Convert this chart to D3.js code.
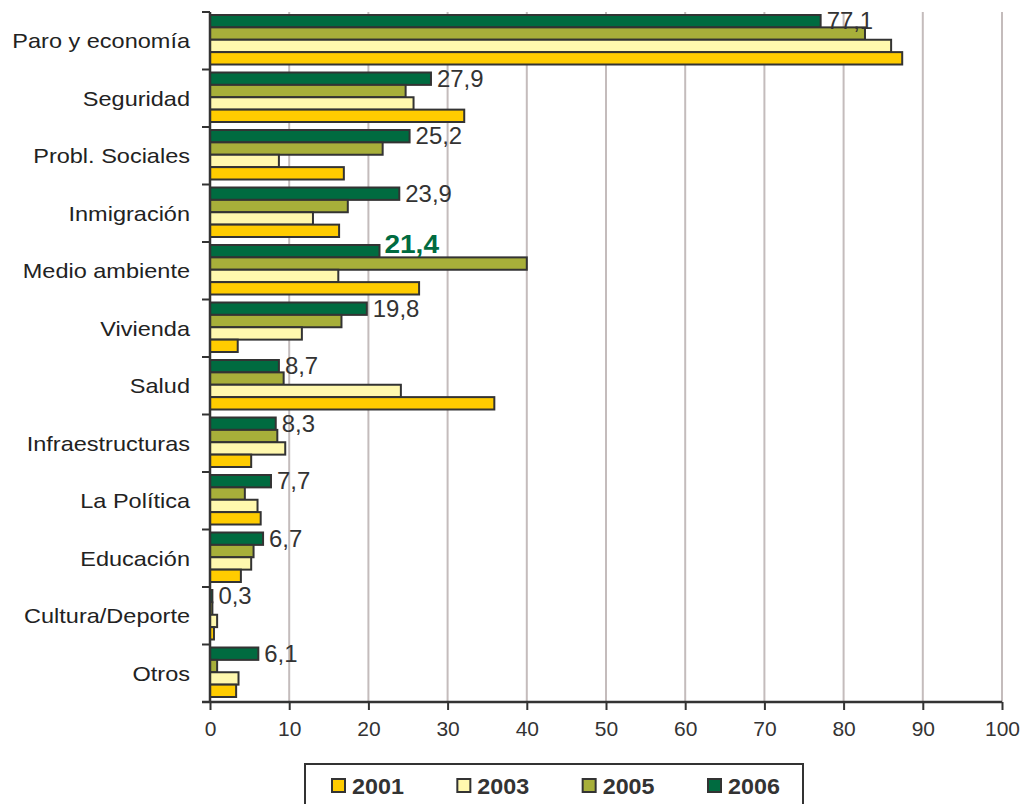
<!DOCTYPE html>
<html><head><meta charset="utf-8">
<script src="https://cdn.jsdelivr.net/npm/d3@7"></script>
<style>body{margin:0;background:#fff}svg{display:block}</style>
</head><body><svg id="c" width="1023" height="804"></svg>
<script>
const categories = ["Paro y economía","Seguridad","Probl. Sociales","Inmigración","Medio ambiente","Vivienda","Salud","Infraestructuras","La Política","Educación","Cultura/Deporte","Otros"];
const years = ["2006","2005","2003","2001"];
const legendYears = ["2001","2003","2005","2006"];
const v2006 = [77.1,27.9,25.2,23.9,21.4,19.8,8.7,8.3,7.7,6.7,0.3,6.1];
const v2005 = [82.7,24.7,21.8,17.4,40.0,16.6,9.3,8.5,4.4,5.5,0.3,0.9];
const v2003 = [86.0,25.7,8.7,13.0,16.2,11.6,24.1,9.5,6.0,5.2,0.9,3.6];
const v2001 = [87.4,32.1,16.9,16.3,26.4,3.5,35.9,5.2,6.4,3.9,0.5,3.3];
const labels2006 = ["77,1","27,9","25,2","23,9","21,4","19,8","8,7","8,3","7,7","6,7","0,3","6,1"];
const xTicks = [0,10,20,30,40,50,60,70,80,90,100];

const seriesByYear = {"2006":v2006,"2005":v2005,"2003":v2003,"2001":v2001};
const colors = {"2001":"#FFCC00","2003":"#FFF8AE","2005":"#A7AF3A","2006":"#006B40"};
const stroke = "#333333";

const svg = d3.select("#c");
const font = "'Liberation Sans', Arial, sans-serif";
const mLeft = 210, mRight = 1002, mTop = 12, mBottom = 702;

const x = d3.scaleLinear().domain([0,100]).range([mLeft,mRight]);
const y = d3.scaleBand().domain(categories).range([mTop,mBottom]).paddingInner(0);
const yInner = d3.scaleBand().domain(years).range([3, y.bandwidth()-5]).paddingInner(0);

// gridlines
svg.append("g").selectAll("line").data(xTicks.slice(1)).join("line")
  .attr("x1",d=>x(d)).attr("x2",d=>x(d)).attr("y1",mTop).attr("y2",mBottom)
  .attr("stroke","#C4BCBC").attr("stroke-width",2);

// bars
const g = svg.append("g");
categories.forEach((c,i)=>{
  years.forEach(yr=>{
    const v = seriesByYear[yr][i];
    g.append("rect")
      .attr("x",x(0)).attr("y",y(c)+yInner(yr))
      .attr("width",Math.max(x(v)-x(0),0.5)).attr("height",yInner.bandwidth())
      .attr("fill",colors[yr]).attr("stroke",stroke).attr("stroke-width",2);
  });
});

// value labels
categories.forEach((c,i)=>{
  const bold = c==="Medio ambiente";
  const tx = x(v2006[i]) + (bold?5:6);
  const ty = y(c)+yInner("2006")+yInner.bandwidth()/2 - (bold?7:0);
  svg.append("text")
    .attr("transform",`translate(${tx},${ty}) scale(${bold?1.12:1.04},1)`)
    .attr("dy","0.36em")
    .attr("font-family",font)
    .attr("font-size",bold?25:23)
    .attr("font-weight",bold?"bold":"normal")
    .attr("fill",bold?"#006B40":"#333333")
    .text(labels2006[i]);
});

// x axis
const xAxis = d3.axisBottom(x).tickValues(xTicks).tickSize(8).tickPadding(11).tickFormat(d3.format("d"));
const gx = svg.append("g").attr("transform",`translate(0,${mBottom})`).call(xAxis);
gx.select(".domain").attr("stroke",stroke).attr("stroke-width",2.5).attr("d",`M${mLeft-8},0H${mRight}`);
gx.selectAll(".tick line").attr("stroke",stroke).attr("stroke-width",2);
gx.selectAll(".tick text").attr("font-family",font).attr("font-size",21).attr("fill","#333");

// y axis
const yTickPos = categories.map(c=>y(c)).concat([mBottom]);
svg.append("line").attr("x1",mLeft).attr("x2",mLeft).attr("y1",mTop).attr("y2",mBottom)
  .attr("stroke",stroke).attr("stroke-width",2.5);
svg.append("g").selectAll("line").data(yTickPos).join("line")
  .attr("x1",mLeft-8).attr("x2",mLeft).attr("y1",d=>d).attr("y2",d=>d)
  .attr("stroke",stroke).attr("stroke-width",2);
svg.append("g").selectAll("text").data(categories).join("text")
  .attr("transform",d=>`translate(190,${y(d)+y.bandwidth()/2}) scale(1.12,1)`)
  .attr("dy","0.35em")
  .attr("text-anchor","end").attr("font-family",font).attr("font-size",21).attr("fill","#222")
  .text(d=>d);

// legend
const lg = svg.append("g");
lg.append("rect").attr("x",305).attr("y",764).attr("width",498).attr("height",50)
  .attr("fill","#fff").attr("stroke",stroke).attr("stroke-width",2);
const legX = d3.scalePoint().domain(legendYears).range([332,708]);
legendYears.forEach(yr=>{
  lg.append("rect").attr("x",legX(yr)).attr("y",779).attr("width",13).attr("height",13)
    .attr("fill",colors[yr]).attr("stroke",stroke).attr("stroke-width",2);
  lg.append("text").attr("transform",`translate(${legX(yr)+20},786) scale(1.06,1)`).attr("dy","0.36em")
    .attr("font-family",font).attr("font-size",22).attr("font-weight","bold").attr("fill","#333")
    .text(yr);
});
</script></body></html>
